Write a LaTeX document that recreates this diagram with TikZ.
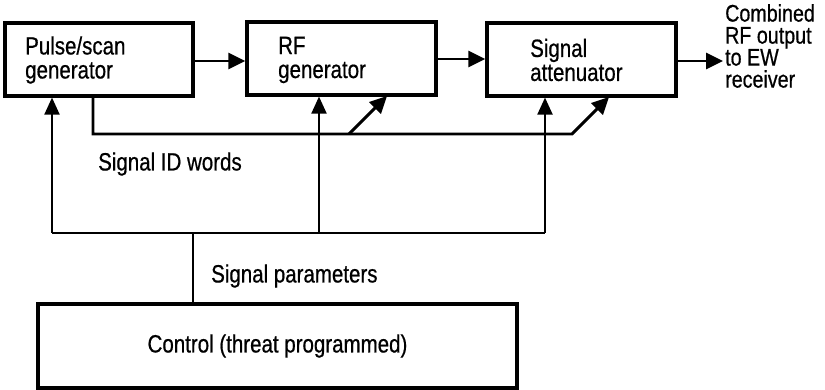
\documentclass[tikz,border=0pt]{standalone}
\usepackage{fontspec}
\setmainfont{Liberation Sans}[FakeStretch=0.82,FakeBold=0.6]
\usetikzlibrary{arrows.meta}
\begin{document}
\begin{tikzpicture}[x=1pt,y=-1pt,
  box/.style={draw,line width=3.2pt,minimum width=#1,minimum height=73pt,inner sep=0pt},
  txt/.style={font=\fontsize{25}{24}\selectfont,align=left,anchor=west,inner sep=0pt},
  arr/.style={line width=2.9pt,-{Triangle[length=17pt,width=16pt]}},
  thin/.style={line width=2.1pt},
  tarr/.style={line width=2.1pt,-{Triangle[length=17pt,width=15pt]}}]
\useasboundingbox (0,0) rectangle (825,390);
% boxes
\node[box=188pt] (pulse) at (99,59.5) {};
\node[box=189pt] (rf) at (341.5,58.5) {};
\node[box=189pt] (att) at (581.5,59.5) {};
\node[draw,line width=3.2pt,minimum width=479pt,minimum height=84pt,inner sep=0pt,
      font=\fontsize{25}{24}\selectfont] (ctrl) at (277.5,346) {Control (threat programmed)};
% box texts
\node[txt] (pulsetxt) at (25,60) {Pulse/scan\\generator};
\node[txt] (rftxt) at (278,60) {RF\\generator};
\node[txt] (atttxt) at (530,60) {Signal\\attenuator};
\node[txt,font=\fontsize{24}{22}\selectfont] (outtxt) at (725,46) {Combined\\RF output\\to EW\\receiver};
\node[txt] (idtxt) at (98,164) {Signal ID words};
\node[txt] (partxt) at (211,276) {Signal parameters};
% forward chain
\coordinate (o1) at (193,61);
\coordinate (o2) at (436,59);
\coordinate (o3) at (676,61);
\coordinate (oend) at (723,61);
\draw[arr] (o1) -- (o1 -| rf.west);
\draw[arr] (o2) -- (o2 -| att.west);
\draw[arr] (o3) -- (oend);
% signal ID words bus
\coordinate (fa) at (93,134);
\coordinate (fb) at (572,134);
\coordinate (fbr) at (349,134);
\coordinate (rfin) at (387,96);
\coordinate (attin) at (609,97);
\draw[arr] (pulse.south -| fa) -- (fa) -- (fb) -- (attin);
\draw[arr] (fbr) -- (rfin);
% control bus
\coordinate (cl) at (52,233);
\coordinate (cr) at (545,233);
\coordinate (cm) at (193,233);
\coordinate (c2) at (319,233);
\draw[thin] (cl) -- (cr);
\draw[thin] (ctrl.north -| cm) -- (cm);
\draw[tarr] (cl) -- (cl |- pulse.south);
\draw[tarr] (c2) -- (c2 |- rf.south);
\draw[tarr] (cr) -- (cr |- att.south);
\end{tikzpicture}
\end{document}
